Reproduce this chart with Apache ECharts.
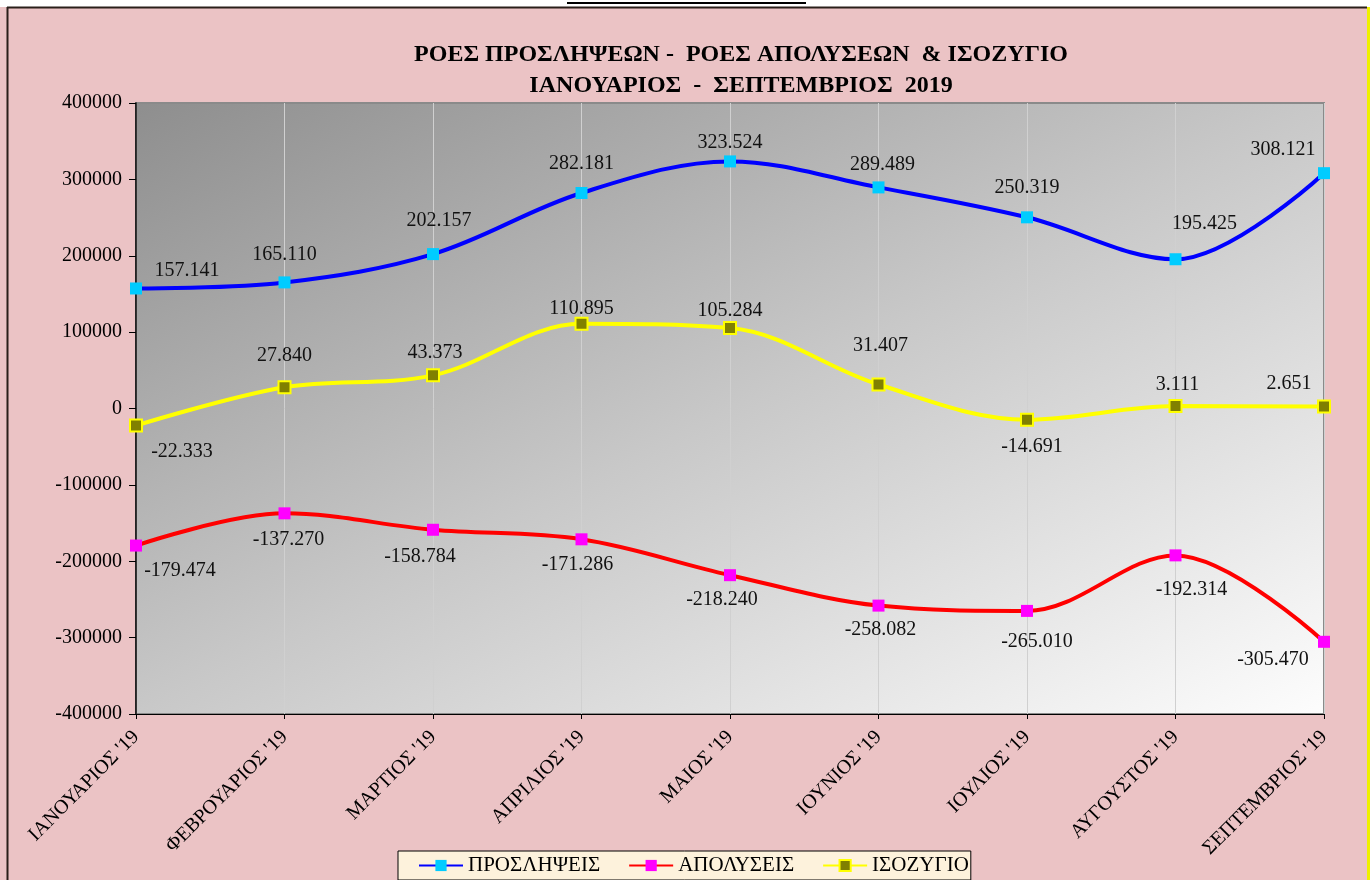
<!DOCTYPE html>
<html>
<head>
<meta charset="utf-8">
<script src="https://cdn.jsdelivr.net/npm/echarts@6/dist/echarts.min.js"></script>
<style>html,body{margin:0;padding:0;background:#fff}#c{width:1370px;height:880px}</style>
</head>
<body>
<div id="c"></div>
<script>
const categories = ["ΙΑΝΟΥΑΡΙΟΣ '19","ΦΕΒΡΟΥΑΡΙΟΣ '19","ΜΑΡΤΙΟΣ '19","ΑΠΡΙΛΙΟΣ '19","ΜΑΙΟΣ '19","ΙΟΥΝΙΟΣ '19","ΙΟΥΛΙΟΣ '19","ΑΥΓΟΥΣΤΟΣ '19","ΣΕΠΤΕΜΒΡΙΟΣ '19"];
const hires = [157141,165110,202157,282181,323524,289489,250319,195425,308121];
const layoffs = [-179474,-137270,-158784,-171286,-218240,-258082,-265010,-192314,-305470];
const balance = [-22333,27840,43373,110895,105284,31407,-14691,3111,2651];
const yTicks = [-400000,-300000,-200000,-100000,0,100000,200000,300000,400000];

// label placement (style only)
const hiresOff = [[51,-18],[0,-28],[6,-33],[0,-29],[0,-19],[4,-23],[0,-30],[29,-35],[-41,-23]];
const balanceOff = [[46,26],[0,-31],[2,-23],[0,-15],[0,-17],[2,-39],[5,27],[2,-21],[-35,-23]];
const layoffsOff = [[44,25],[4,26],[-13,27],[-4,25],[-8,25],[2,24],[10,31],[16,34],[-51,18]];

const FONT = "'Liberation Serif', 'DejaVu Serif', serif";
function fmt(v){
  const s = Math.abs(v).toString().replace(/\B(?=(\d{3})+(?!\d))/g,'.');
  return (v<0?'-':'') + s;
}
function build(vals, offs){
  return vals.map((v,i)=>({value:v,label:{offset:offs[i]}}));
}
const chart = echarts.init(document.getElementById('c'));
const lbl = {show:true, position:'inside', formatter:p=>fmt(p.value), color:'#111', fontFamily:FONT, fontSize:20};
chart.setOption({
  backgroundColor:'#ebc3c5',
  animation:false,
  graphic:[
    {type:'rect', shape:{x:0,y:0,width:1370,height:7}, style:{fill:'#ffffff'}, z:-1},
    {type:'line', shape:{x1:567,y1:3,x2:806,y2:3}, style:{stroke:'#000',lineWidth:2}},
    {type:'line', shape:{x1:7,y1:7.5,x2:1367,y2:7.5}, style:{stroke:'#2a1f1a',lineWidth:2}},
    {type:'line', shape:{x1:7.5,y1:7,x2:7.5,y2:880}, style:{stroke:'#2a1f1a',lineWidth:2}},
    {type:'line', shape:{x1:1368.5,y1:7,x2:1368.5,y2:880}, style:{stroke:'#f0f000',lineWidth:3}}
  ],
  title:{
    text:'ΡΟΕΣ ΠΡΟΣΛΗΨΕΩΝ -  ΡΟΕΣ ΑΠΟΛΥΣΕΩΝ  & ΙΣΟΖΥΓΙΟ\nΙΑΝΟΥΑΡΙΟΣ  -  ΣΕΠΤΕΜΒΡΙΟΣ  2019',
    left:736, top:34, textAlign:'center',
    textStyle:{fontFamily:FONT, fontWeight:'bold', fontSize:24, color:'#000', lineHeight:31}
  },
  legend:{
    left:398, top:851, height:27,
    padding:[4,2,4,20],
    backgroundColor:'#fdf2dc', borderColor:'#000', borderWidth:1, borderRadius:0,
    itemWidth:44, itemHeight:14, itemGap:28,
    textStyle:{fontFamily:FONT, fontSize:21, color:'#000'},
    data:['ΠΡΟΣΛΗΨΕΙΣ','ΑΠΟΛΥΣΕΙΣ','ΙΣΟΖΥΓΙΟ']
  },
  grid:{left:136, right:46, top:103, bottom:166, show:true, borderColor:'#8a8a8a', borderWidth:2,
    backgroundColor:new echarts.graphic.LinearGradient(0,0,0.418,1.581,[{offset:0,color:'#8e8e8e'},{offset:0.5,color:'#c8c8c8'},{offset:1,color:'#fdfdfd'}])
  },
  xAxis:[
    {type:'category', data:categories, boundaryGap:false, position:'bottom',
     axisLine:{show:false}, axisTick:{show:false},
     axisLabel:{rotate:45, margin:20, fontFamily:FONT, fontSize:20, color:'#000', interval:0},
     splitLine:{show:true, lineStyle:{color:'#d0d0d0', width:1}}
    },
    {type:'category', data:categories, boundaryGap:false, position:'bottom',
     axisLine:{show:true, onZero:true, lineStyle:{color:'#000', width:1}},
     axisTick:{show:true, length:5, interval:0, lineStyle:{color:'#000'}},
     axisLabel:{show:false}, splitLine:{show:false}
    }
  ],
  yAxis:{type:'value', min:-400000, max:400000, interval:100000,
    axisLine:{show:true, lineStyle:{color:'#000', width:1.5}},
    axisTick:{show:true, length:7, lineStyle:{color:'#000'}},
    axisLabel:{fontFamily:FONT, fontSize:20, color:'#000', margin:14, formatter:v=>String(v)},
    splitLine:{show:false}
  },
  series:[
    {name:'ΠΡΟΣΛΗΨΕΙΣ', type:'line', smooth:0.35, data:build(hires,hiresOff),
     lineStyle:{color:'#0000ff', width:4}, itemStyle:{color:'#00ccff', borderWidth:0},
     color:'#0000ff', symbol:'rect', symbolSize:12, label:lbl, z:3},
    {name:'ΑΠΟΛΥΣΕΙΣ', type:'line', smooth:0.35, data:build(layoffs,layoffsOff),
     lineStyle:{color:'#ff0000', width:4}, itemStyle:{color:'#ff00ff', borderWidth:0},
     color:'#ff0000', symbol:'rect', symbolSize:12, label:lbl, z:3},
    {name:'ΙΣΟΖΥΓΙΟ', type:'line', smooth:0.35, data:build(balance,balanceOff),
     lineStyle:{color:'#ffff00', width:4}, itemStyle:{color:'#808000', borderColor:'#ffff00', borderWidth:2},
     color:'#ffff00', symbol:'rect', symbolSize:12, label:lbl, z:3}
  ]
});
</script>
</body>
</html>
